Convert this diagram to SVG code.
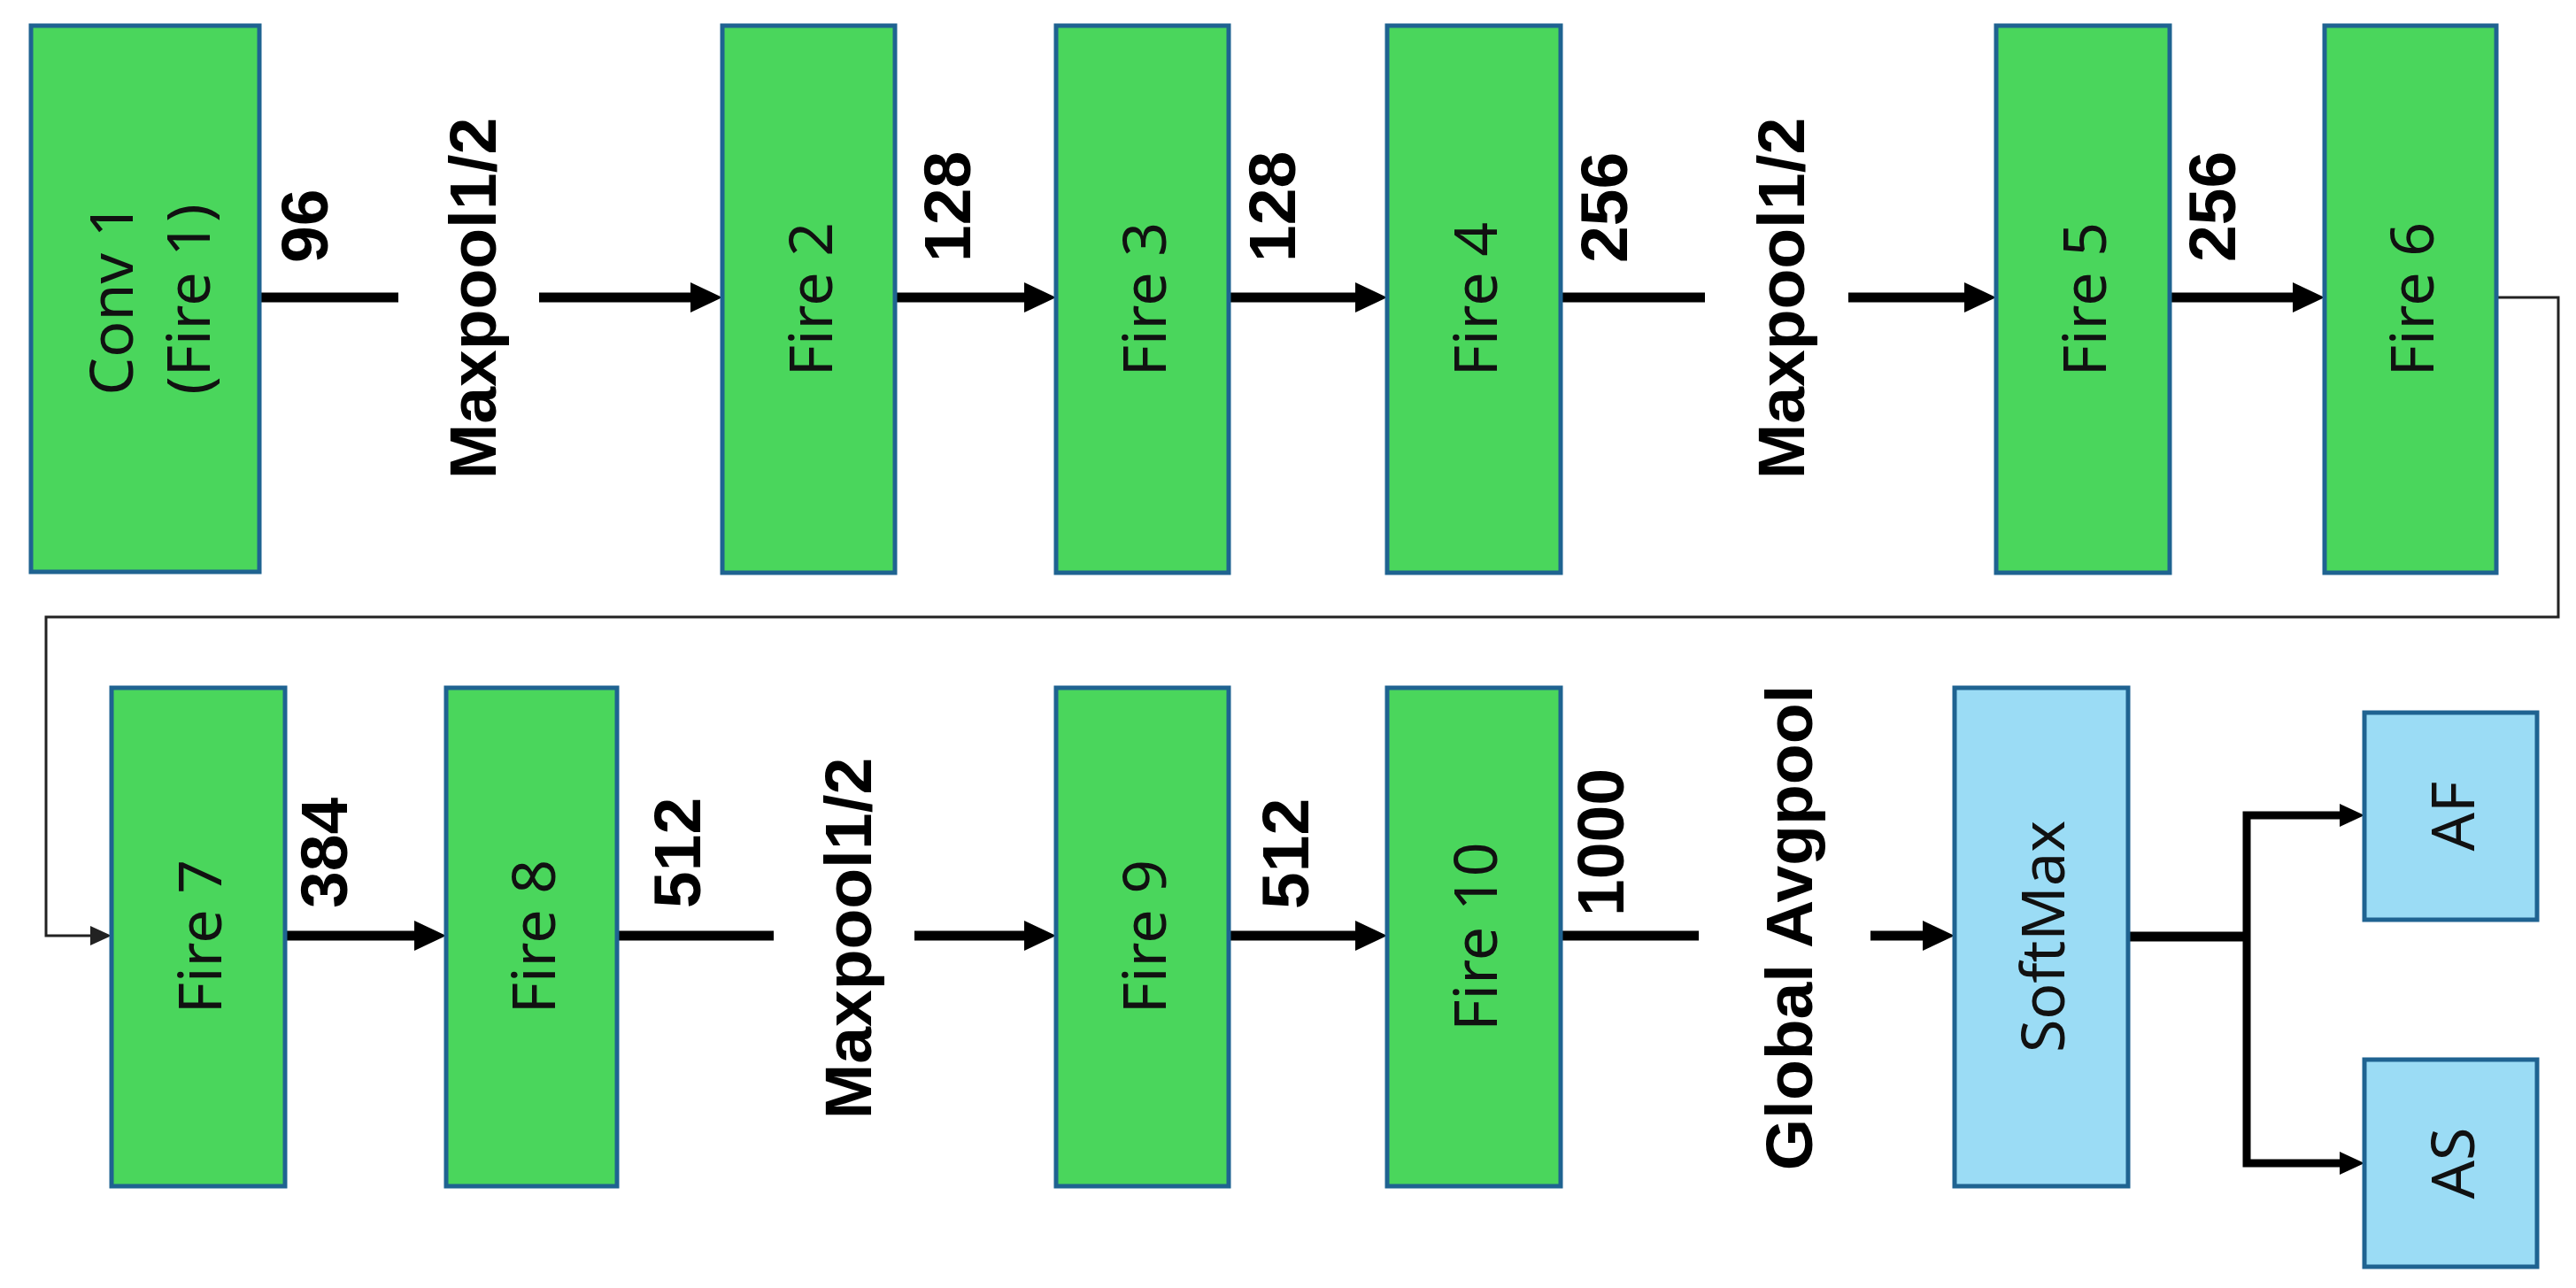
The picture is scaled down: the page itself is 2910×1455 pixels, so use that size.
<svg xmlns="http://www.w3.org/2000/svg" width="2910" height="1455" viewBox="0 0 2910 1455">
<style>
.g{fill:#4AD65C;stroke:#1F6391;stroke-width:5}
.b{fill:#9BDCF5;stroke:#1F6391;stroke-width:5}
.bt{font-family:"Noto Sans","Open Sans",sans-serif;font-size:68px;fill:#111;text-anchor:middle}
.lb{font-family:"Liberation Sans",Arial,sans-serif;font-weight:bold;font-size:75px;fill:#000}
.c{fill:none;stroke:#000;stroke-width:11}
.cb{fill:none;stroke:#000;stroke-width:9;stroke-linejoin:miter}
.ct{fill:none;stroke:#222;stroke-width:3}
</style>
<defs>
<marker id="ah" markerUnits="userSpaceOnUse" markerWidth="36" markerHeight="34" refX="6" refY="17" orient="auto"><path d="M0,0 L36,17 L0,34 z" fill="#000"/></marker>
<marker id="ahs" markerUnits="userSpaceOnUse" markerWidth="28" markerHeight="26" refX="4" refY="13" orient="auto"><path d="M0,0 L28,13 L0,26 z" fill="#000"/></marker>
<marker id="aht" markerUnits="userSpaceOnUse" markerWidth="24" markerHeight="22" refX="2" refY="11" orient="auto"><path d="M0,0 L24,11 L0,22 z" fill="#222"/></marker>
</defs>
<rect width="2910" height="1455" fill="#fff"/>
<g id="connectors">
<path class="c" d="M293,336 H450"/>
<path class="c" d="M609,336 H786" marker-end="url(#ah)"/>
<path class="c" d="M1011,336 H1163" marker-end="url(#ah)"/>
<path class="c" d="M1388,336 H1537" marker-end="url(#ah)"/>
<path class="c" d="M1763,336 H1926"/>
<path class="c" d="M2088,336 H2225" marker-end="url(#ah)"/>
<path class="c" d="M2451,336 H2596" marker-end="url(#ah)"/>
<path class="ct" d="M2820,336 H2890 V697 H52 V1057 H104" marker-end="url(#aht)"/>
<path class="c" d="M322,1057 H474" marker-end="url(#ah)"/>
<path class="c" d="M697,1057 H874"/>
<path class="c" d="M1033,1057 H1163" marker-end="url(#ah)"/>
<path class="c" d="M1388,1057 H1537" marker-end="url(#ah)"/>
<path class="c" d="M1763,1057 H1919"/>
<path class="c" d="M2113,1057 H2178" marker-end="url(#ah)"/>
<path class="c" d="M2404,1058 H2540"/>
<path class="cb" d="M2538,1058 V921 H2647" marker-end="url(#ahs)"/>
<path class="cb" d="M2538,1058 V1314 H2647" marker-end="url(#ahs)"/>
</g>
<g id="labels">
<text class="lb" transform="translate(370,297) rotate(-90)">96</text>
<text class="lb" transform="translate(560,337) rotate(-90)" text-anchor="middle">Maxpool1/2</text>
<text class="lb" transform="translate(1096,296) rotate(-90)">128</text>
<text class="lb" transform="translate(1463,296) rotate(-90)">128</text>
<text class="lb" transform="translate(1838,297) rotate(-90)">256</text>
<text class="lb" transform="translate(2038,337) rotate(-90)" text-anchor="middle">Maxpool1/2</text>
<text class="lb" transform="translate(2525,296) rotate(-90)">256</text>
<text class="lb" transform="translate(392,1026) rotate(-90)">384</text>
<text class="lb" transform="translate(791,1026) rotate(-90)">512</text>
<text class="lb" transform="translate(984,1060) rotate(-90)" text-anchor="middle">Maxpool1/2</text>
<text class="lb" transform="translate(1478,1027) rotate(-90)">512</text>
<text class="lb" transform="translate(1834,1035) rotate(-90)">1000</text>
<text class="lb" transform="translate(2047,1048) rotate(-90)" text-anchor="middle">Global Avgpool</text>
</g>
<g id="conv1"><rect class="g" x="35" y="29" width="258" height="617"/>
<text class="bt" transform="translate(150,338) rotate(-90)">Conv 1</text>
<text class="bt" transform="translate(237,338) rotate(-90)">(Fire 1)</text></g>
<g id="fire2"><rect class="g" x="816" y="29" width="195" height="618"/><text class="bt" transform="translate(940,338) rotate(-90)">Fire 2</text></g>
<g id="fire3"><rect class="g" x="1193" y="29" width="195" height="618"/><text class="bt" transform="translate(1317,338) rotate(-90)">Fire 3</text></g>
<g id="fire4"><rect class="g" x="1567" y="29" width="196" height="618"/><text class="bt" transform="translate(1691,338) rotate(-90)">Fire 4</text></g>
<g id="fire5"><rect class="g" x="2255" y="29" width="196" height="618"/><text class="bt" transform="translate(2379,338) rotate(-90)">Fire 5</text></g>
<g id="fire6"><rect class="g" x="2626" y="29" width="194" height="618"/><text class="bt" transform="translate(2749,338) rotate(-90)">Fire 6</text></g>
<g id="fire7"><rect class="g" x="126" y="777" width="196" height="563"/><text class="bt" transform="translate(250,1058) rotate(-90)">Fire 7</text></g>
<g id="fire8"><rect class="g" x="504" y="777" width="193" height="563"/><text class="bt" transform="translate(627,1058) rotate(-90)">Fire 8</text></g>
<g id="fire9"><rect class="g" x="1193" y="777" width="195" height="563"/><text class="bt" transform="translate(1317,1058) rotate(-90)">Fire 9</text></g>
<g id="fire10"><rect class="g" x="1567" y="777" width="196" height="563"/><text class="bt" transform="translate(1691,1058) rotate(-90)">Fire 10</text></g>
<g id="softmax"><rect class="b" x="2208" y="777" width="196" height="563"/><text class="bt" transform="translate(2332,1058) rotate(-90)">SoftMax</text></g>
<g id="af"><rect class="b" x="2671" y="805" width="195" height="234"/><text class="bt" transform="translate(2795,922) rotate(-90)">AF</text></g>
<g id="as"><rect class="b" x="2671" y="1197" width="195" height="234"/><text class="bt" transform="translate(2795,1314) rotate(-90)">AS</text></g>
</svg>
